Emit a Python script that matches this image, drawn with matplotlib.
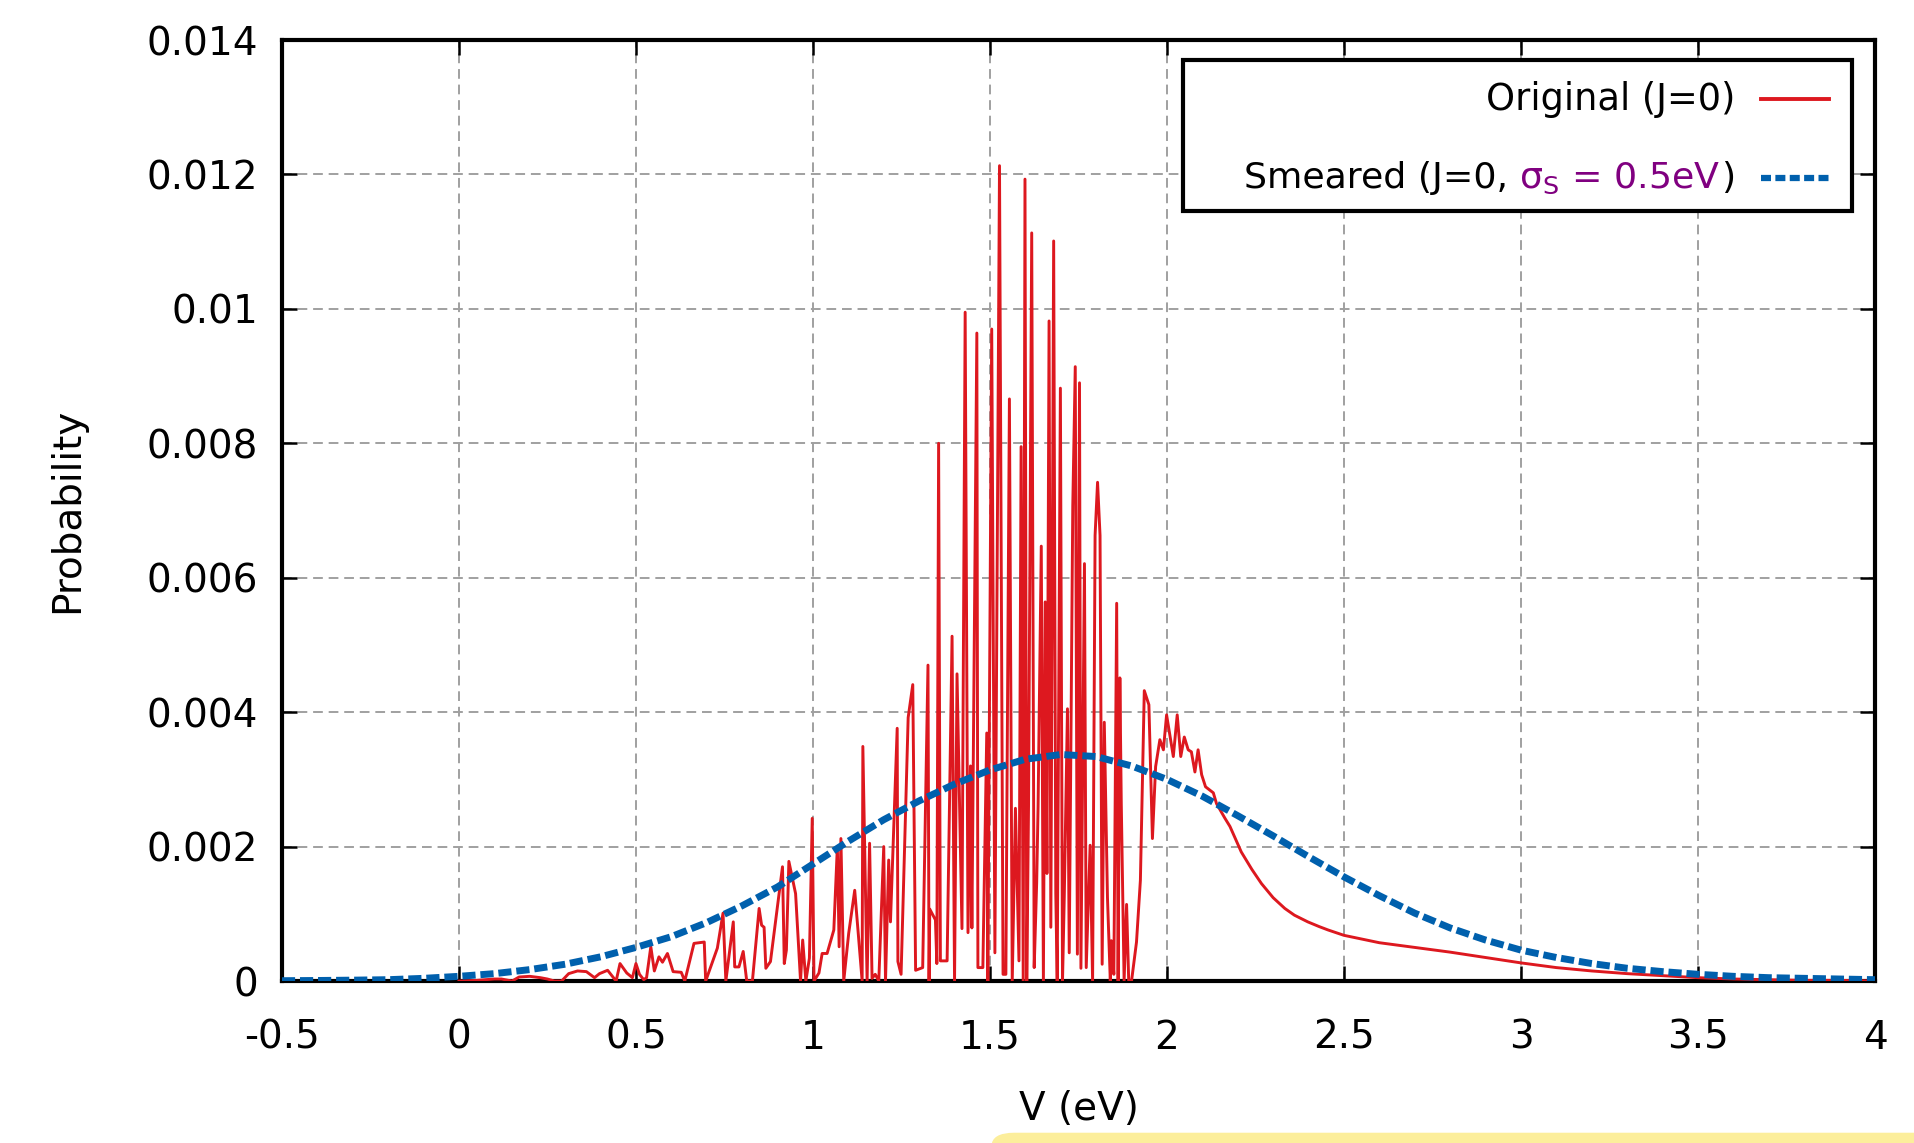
import matplotlib
matplotlib.use("Agg")
from matplotlib import pyplot as plt
from matplotlib.patches import Rectangle, FancyBboxPatch
from matplotlib.offsetbox import TextArea, HPacker, AnchoredOffsetbox

# Original (J=0) distribution
orig_v = [0.00, 0.05, 0.10, 0.12, 0.15, 0.17, 0.20, 0.23, 0.25, 0.27, 0.29, 0.31, 0.335, 0.36, 0.383,
          0.397, 0.42, 0.444, 0.455, 0.474, 0.49, 0.50, 0.51, 0.522, 0.53, 0.542, 0.552, 0.565, 0.575,
          0.589, 0.605, 0.628, 0.638, 0.664, 0.693, 0.697, 0.73, 0.746, 0.754, 0.775, 0.779, 0.791,
          0.803, 0.813, 0.829, 0.848, 0.855, 0.862, 0.867, 0.88, 0.914, 0.919, 0.925, 0.932, 0.951,
          0.965, 0.971, 0.98, 0.99, 0.998, 1.003, 1.017, 1.026, 1.04, 1.059, 1.069, 1.074, 1.079,
          1.087, 1.101, 1.118, 1.139, 1.141, 1.153, 1.16, 1.167, 1.176, 1.186, 1.20, 1.205, 1.214,
          1.219, 1.238, 1.24, 1.249, 1.269, 1.282, 1.29, 1.31, 1.325, 1.328, 1.33, 1.346, 1.35, 1.355,
          1.36, 1.379, 1.393, 1.40, 1.407, 1.421, 1.43, 1.438, 1.445, 1.449, 1.463, 1.466, 1.48, 1.491,
          1.494, 1.505, 1.514, 1.527, 1.537, 1.545, 1.555, 1.563, 1.572, 1.582, 1.588, 1.592, 1.594,
          1.599, 1.604, 1.609, 1.618, 1.625, 1.632, 1.636, 1.645, 1.651, 1.656, 1.661, 1.667, 1.672,
          1.68, 1.686, 1.69, 1.699, 1.705, 1.71, 1.719, 1.724, 1.734, 1.741, 1.747, 1.753, 1.757, 1.767,
          1.772, 1.783, 1.79, 1.797, 1.804, 1.811, 1.817, 1.823, 1.832, 1.84, 1.843, 1.85, 1.858, 1.862,
          1.867, 1.871, 1.879, 1.886, 1.892, 1.90, 1.914, 1.925, 1.936, 1.949, 1.959, 1.968, 1.980,
          1.990, 1.999, 2.018, 2.029, 2.039, 2.049, 2.060, 2.069, 2.079, 2.088, 2.098, 2.109, 2.131,
          2.140, 2.164, 2.178, 2.21, 2.24, 2.267, 2.30, 2.333, 2.36, 2.398, 2.43, 2.455, 2.5, 2.6,
          2.7, 2.8, 2.9, 3.0, 3.1, 3.2, 3.3, 3.4, 3.5, 3.6, 3.7, 3.8, 3.9, 4.0]
orig_p = [0.0, 0.00001, 0.00003, 0.00003, 0.0, 0.00006, 0.00007, 0.00005, 0.00003, 0.0, 0.0, 0.00011,
          0.00015, 0.00014, 0.00005, 0.00011, 0.00016, 0.0, 0.00026, 0.00012, 0.00005, 0.00026, 0.0001,
          0.00002, 0.00005, 0.00051, 0.00015, 0.00036, 0.00028, 0.00041, 0.00014, 0.00013, 0.0, 0.00056,
          0.00058, 0.0, 0.00049, 0.00101, 0.0, 0.00088, 0.00021, 0.00021, 0.00044, 0.0, 0.0, 0.00108,
          0.00083, 0.0008, 0.00019, 0.00029, 0.0017, 0.00026, 0.00046, 0.00178, 0.0013, 0.0, 0.00061,
          0.0, 0.00034, 0.00242, 0.0, 0.00012, 0.00041, 0.00041, 0.00076, 0.0020, 0.00051, 0.00212, 0.0,
          0.00071, 0.00135, 0.0, 0.00349, 0.0, 0.00205, 0.00004, 0.0001, 0.0, 0.0020, 0.0, 0.0018,
          0.00088, 0.00376, 0.00029, 0.0001, 0.00392, 0.00441, 0.00016, 0.0002, 0.0047, 0.0, 0.00107,
          0.00091, 0.00026, 0.0080, 0.0003, 0.0003, 0.00513, 0.0, 0.00457, 0.00078, 0.00995, 0.00072,
          0.0032, 0.00079, 0.00964, 0.0002, 0.0002, 0.00369, 0.0, 0.0097, 0.00042, 0.01213, 0.0001,
          0.0001, 0.00866, 0.0, 0.00257, 0.0003, 0.00795, 0.0027, 0.0, 0.01193, 0.0, 0.0026, 0.01113,
          0.0002, 0.00146, 0.0026, 0.00647, 0.0, 0.00564, 0.0016, 0.00982, 0.0008, 0.01101, 0.0013, 0.0,
          0.00882, 0.0, 0.00126, 0.00405, 0.00042, 0.00707, 0.00914, 0.0004, 0.0089, 0.00019, 0.00621,
          0.0002, 0.00202, 0.0, 0.00663, 0.00742, 0.00663, 0.00025, 0.00385, 0.00124, 0.0, 0.0006,
          0.0001, 0.00562, 0.0, 0.00451, 0.00264, 0.0, 0.00114, 0.0, 0.0, 0.00058, 0.0015, 0.00432,
          0.00411, 0.00212, 0.00319, 0.00359, 0.00344, 0.00396, 0.00334, 0.00396, 0.00334, 0.00363,
          0.00344, 0.00341, 0.00311, 0.00344, 0.00307, 0.00289, 0.0028, 0.00264, 0.00242, 0.0023,
          0.00192, 0.00166, 0.00145, 0.00124, 0.00108, 0.00098, 0.00088, 0.00081, 0.00076, 0.00068,
          0.00057, 0.0005, 0.00043, 0.00035, 0.00027, 0.0002, 0.00015, 0.00011, 0.00008, 0.00005,
          0.00003, 0.00002, 0.00001, 0.00001, 0.0]

# Smeared (sigma_S = 0.5 eV) curve, read every 0.1 eV
smear_v = [-0.5, -0.4, -0.3, -0.2, -0.1, 0.0, 0.1, 0.2, 0.3, 0.4, 0.5, 0.6, 0.7, 0.8, 0.9, 1.0,
           1.1, 1.2, 1.3, 1.4, 1.5, 1.6, 1.7, 1.8, 1.9, 2.0, 2.1, 2.2, 2.3, 2.4, 2.5, 2.6, 2.7,
           2.8, 2.9, 3.0, 3.1, 3.2, 3.3, 3.4, 3.5, 3.6, 3.7, 3.8, 3.9, 4.0]
smear_p = [0.000005, 0.000008, 0.000013, 0.00002, 0.00004, 0.00007, 0.00011, 0.00017, 0.00025,
           0.00036, 0.00050, 0.00066, 0.00087, 0.00112, 0.00140, 0.00174, 0.00208, 0.00240,
           0.00268, 0.00293, 0.00314, 0.00330, 0.00337, 0.00334, 0.00320, 0.00300, 0.00275,
           0.00246, 0.00216, 0.00185, 0.00155, 0.00127, 0.00101, 0.00079, 0.00061, 0.00046,
           0.00035, 0.00026, 0.00019, 0.00014, 0.00010, 0.00007, 0.00005, 0.00004, 0.00003, 0.00002]

x_ticks = [-0.5, 0, 0.5, 1, 1.5, 2, 2.5, 3, 3.5, 4]
x_labels = ["-0.5", "0", "0.5", "1", "1.5", "2", "2.5", "3", "3.5", "4"]
y_ticks = [0, 0.002, 0.004, 0.006, 0.008, 0.01, 0.012, 0.014]
y_labels = ["0", "0.002", "0.004", "0.006", "0.008", "0.01", "0.012", "0.014"]

RED = "#dd181f"
BLUE = "#0060ad"
PURPLE = "#800080"


def draw_legend(ax):
    # gnuplot style key: text right aligned, sample on the right
    box = Rectangle((0.5656, 0.818), 0.42, 0.1607, transform=ax.transAxes,
                    facecolor="white", edgecolor="black", lw=3, zorder=5)
    ax.add_patch(box)

    ax.text(0.9121, 0.9373, "Original (J=0)", transform=ax.transAxes,
            ha="right", va="center", fontsize=26.5, zorder=6)
    ax.plot([0.9284, 0.9711], [0.9373, 0.9373], transform=ax.transAxes,
            color=RED, lw=2.8, zorder=6, clip_on=False)

    parts = [TextArea("Smeared (J=0,", textprops=dict(fontsize=26.2)),
             TextArea(r" $\mathregular{σ_S}$ = 0.5eV", textprops=dict(fontsize=26.2, color=PURPLE)),
             TextArea(")", textprops=dict(fontsize=26.2))]
    row = HPacker(children=parts, align="baseline", pad=0, sep=0)
    anch = AnchoredOffsetbox(loc="center right", child=row, pad=0, borderpad=0, frameon=False,
                             bbox_to_anchor=(0.9121, 0.8533), bbox_transform=ax.transAxes)
    anch.set_zorder(6)
    ax.add_artist(anch)
    ax.plot([0.9284, 0.9711], [0.8533, 0.8533], transform=ax.transAxes,
            color=BLUE, lw=4.5, dashes=(1.6, 0.7), zorder=6, clip_on=False)


def main():
    plt.rcParams["font.family"] = ["DejaVu Sans"]
    fig = plt.figure(figsize=(19.14, 11.43), dpi=100)
    ax = fig.add_axes([0.1473, 0.1417, 0.8323, 0.8233])

    ax.plot(orig_v, orig_p, color=RED, lw=2.1, zorder=3)
    ax.plot(smear_v, smear_p, color=BLUE, lw=5, dashes=(1.9, 0.7), zorder=4)

    ax.set_xlim(-0.5, 4)
    ax.set_ylim(0, 0.014)
    ax.set_xticks(x_ticks)
    ax.set_xticklabels(x_labels)
    ax.set_yticks(y_ticks)
    ax.set_yticklabels(y_labels)

    ax.grid(True, color="#a0a0a0", lw=1.4, dashes=(5, 3))
    ax.set_axisbelow(True)
    ax.tick_params(direction="in", length=11, width=1.8, top=True, right=True, labelsize=28)
    ax.tick_params(axis="x", pad=27)
    ax.tick_params(axis="y", pad=17)
    for s in ax.spines.values():
        s.set_linewidth(3)

    ax.set_xlabel("V (eV)", fontsize=28)
    ax.set_ylabel("Probability", fontsize=28)
    ax.xaxis.set_label_coords(0.5, -0.116)
    ax.yaxis.set_label_coords(-0.123, 0.5)

    draw_legend(ax)

    # yellow band cut at the bottom edge of the screenshot
    fig.patches.append(FancyBboxPatch((0.518, -0.02), 0.5, 0.029, boxstyle="round,pad=0,rounding_size=0.012",
                                      transform=fig.transFigure, facecolor="#fcee9b", edgecolor="none"))

    fig.savefig("out.png", dpi=100)


if __name__ == "__main__":
    main()
